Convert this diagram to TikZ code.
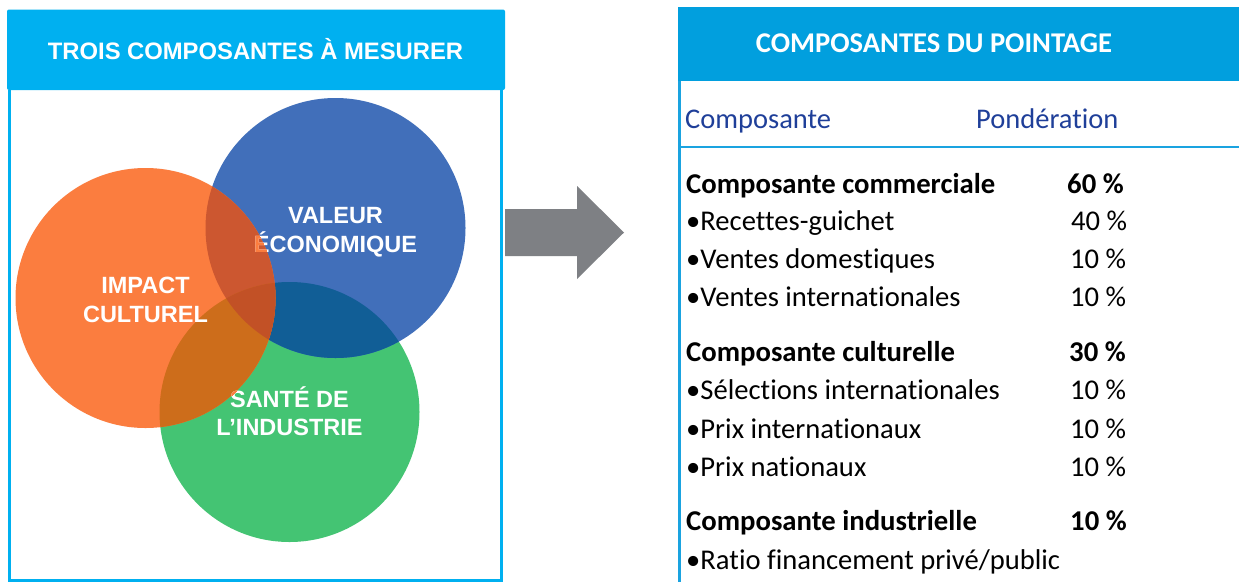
\documentclass[tikz,border=0pt]{standalone}
\usepackage{fontspec}
\newfontfamily\arialf{Liberation Sans}
\newfontfamily\calibf[Ligatures=NoCommon]{Carlito}
\definecolor{cyanL}{HTML}{00B0F0}
\definecolor{cyanR}{HTML}{019FDE}
\definecolor{lineR}{HTML}{1AA3E0}
\definecolor{orgC}{HTML}{FB7D3F}
\definecolor{bluC}{HTML}{416FBA}
\definecolor{grnC}{HTML}{44C473}
\definecolor{bgC}{HTML}{115E96}
\definecolor{obC}{HTML}{CC5730}
\definecolor{ogC}{HTML}{CD6D1B}
\definecolor{obgC}{HTML}{C25126}
\definecolor{arrC}{HTML}{7E8084}
\definecolor{hdrtxt}{HTML}{1F3F99}
\tikzset{
  circlab/.style={font=\arialf\bfseries\fontsize{23.5}{28}\selectfont, text=white, inner sep=0pt, anchor=base},
  circlabo/.style={circlab, text=orgC},
  lefthdr/.style={font=\arialf\bfseries\fontsize{23.8}{28}\selectfont, text=white, inner sep=0pt, anchor=base},
  righthdr/.style={font=\calibf\bfseries\fontsize{28.6}{32}\selectfont, text=white, inner sep=0pt, anchor=base},
  colhdr/.style={font=\calibf\fontsize{28.5}{32}\selectfont, text=hdrtxt, inner sep=0pt, anchor=base west},
  rowb/.style={font=\calibf\bfseries\fontsize{28.7}{32}\selectfont, text=black, inner sep=0pt, anchor=base west},
  rowr/.style={font=\calibf\fontsize{28.6}{32}\selectfont, text=black, inner sep=0pt, anchor=base west},
}
\begin{document}
\begin{tikzpicture}[x=1pt,y=-1pt]
\useasboundingbox (0,0) rectangle (1239,582);
\fill[white] (0,0) rectangle (1239,582);
% ---------- left panel ----------
\fill[cyanL, rounded corners=2pt] (7,9.5) rectangle (505,90);
\draw[cyanL, line width=3.5pt] (9.5,90) -- (9.5,580.5) -- (501.5,580.5) -- (501.5,90);
\node[lefthdr] (lhdr) at (255.5,59) {TROIS COMPOSANTES À MESURER};
% circles
\coordinate (O) at (145.5,298);
\coordinate (B) at (335.5,228);
\coordinate (G) at (289.5,412);
\def\R{130pt}
\fill[grnC] (G) circle (\R);
\fill[bluC] (B) circle (\R);
\begin{scope}\clip (B) circle (\R); \fill[bgC] (G) circle (\R);\end{scope}
\fill[orgC] (O) circle (\R);
\begin{scope}\clip (O) circle (\R); \fill[obC] (B) circle (\R);\end{scope}
\begin{scope}\clip (O) circle (\R); \fill[ogC] (G) circle (\R);\end{scope}
\begin{scope}\clip (O) circle (\R); \clip (B) circle (\R); \fill[obgC] (G) circle (\R);\end{scope}
% labels
\node[circlab] (ic1) at (145.5,293) {IMPACT};
\node[circlab] (ic2) at (145.5,322) {CULTUREL};
\node[circlab] (ve1) at (335.5,223) {VALEUR};
\node[circlab] (ve2) at (335.5,252) {ÉCONOMIQUE};
\node[circlab] (si1) at (289.5,407) {SANTÉ DE};
\node[circlab] (si2) at (289.5,435.5) {L’INDUSTRIE};
\begin{scope}
\clip (O) circle (\R);
\node[circlabo] (ve2o) at (335.5,252) {ÉCONOMIQUE};
\node[circlabo] (si1o) at (289.5,407) {SANTÉ DE};
\end{scope}
% ---------- arrow ----------
\fill[arrC] (505,209) -- (577,209) -- (577,186) -- (624,232.5) -- (577,279) -- (577,256) -- (505,256) -- cycle;
% ---------- right panel ----------
\fill[cyanR] (678,7) rectangle (1239,81);
\draw[lineR, line width=2.5pt] (679.5,81) -- (679.5,582);
\draw[lineR, line width=2.5pt] (679.5,147) -- (1239,147);
\node[righthdr] (rhdr) at (934,52) {COMPOSANTES DU POINTAGE};
\node[colhdr] (ch1) at (685,128.5) {Composante};
\node[colhdr] (ch2) at (976,128.5) {Pondération};
\node[rowb] (r1) at (686,193) {Composante commerciale};
\node[rowb] (p1) at (1067,193) {60 \%};
\node[rowr] (r2) at (686,230.5) {•Recettes-guichet};
\node[rowr] (p2) at (1071,230.5) {40 \%};
\node[rowr] (r3) at (686,268.5) {•Ventes domestiques};
\node[rowr] (p3) at (1070,268.5) {10 \%};
\node[rowr] (r4) at (686,306.5) {•Ventes internationales};
\node[rowr] (p4) at (1070,306.5) {10 \%};
\node[rowb] (r5) at (686,361.5) {Composante culturelle};
\node[rowb] (p5) at (1069,361.5) {30 \%};
\node[rowr] (r6) at (686,399.5) {•Sélections internationales};
\node[rowr] (p6) at (1070,399.5) {10 \%};
\node[rowr] (r7) at (686,438) {•Prix internationaux};
\node[rowr] (p7) at (1070,438) {10 \%};
\node[rowr] (r8) at (686,476) {•Prix nationaux};
\node[rowr] (p8) at (1070,476) {10 \%};
\node[rowb] (r9) at (686,530.5) {Composante industrielle};
\node[rowb] (p9) at (1070,530.5) {10 \%};
\node[rowr] (r10) at (686,569) {•Ratio financement privé/public};
\end{tikzpicture}
\end{document}
